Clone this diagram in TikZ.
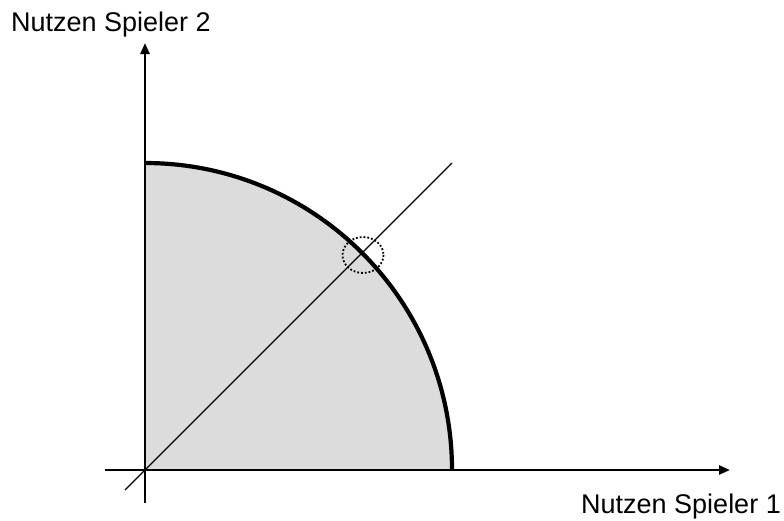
\documentclass[tikz,border=0pt]{standalone}
\usepackage{fontspec}
\setmainfont{Liberation Sans}
\usetikzlibrary{arrows.meta}
\begin{document}
\begin{tikzpicture}[x=1pt,y=-1pt,
  axis/.style={line width=2.4pt,-{Triangle[length=11pt,width=9pt]}},
  frontier/.style={line width=4.2pt},
  diag/.style={line width=1.1pt},
  mark circle/.style={line width=1.8pt,dotted},
  axlabel/.style={font=\fontsize{27}{31}\selectfont,inner sep=0pt}]
\useasboundingbox (0,0) rectangle (784,520);
\coordinate (O) at (145,470);
\coordinate (xs) at (105,470);
\coordinate (xe) at (730,470);
\coordinate (ys) at (145,503);
\coordinate (ye) at (145,43);
\coordinate (top) at (145,163);
\coordinate (right) at (452,470);
\coordinate (ds) at (125,490);
\coordinate (de) at (452,163);
% region
\fill[fill={rgb,255:red,220;green,220;blue,220}] (O) -- (top) arc[start angle=-90,end angle=0,radius=307] -- cycle;
% diagonal
\draw[diag] (ds) -- (de);
% axes
\draw[axis] (xs) -- (xe);
\draw[axis] (ys) -- (ye);
% frontier
\draw[frontier] (top) arc[start angle=-90,end angle=0,radius=307];
% marked point
\draw[mark circle] (363,255) ellipse[x radius=20.5,y radius=18];
% labels
\node[axlabel,anchor=base west] (ly) at (11,31) {Nutzen Spieler 2};
\node[axlabel,anchor=base west] (lx) at (581,513) {Nutzen Spieler 1};
\end{tikzpicture}
\end{document}
